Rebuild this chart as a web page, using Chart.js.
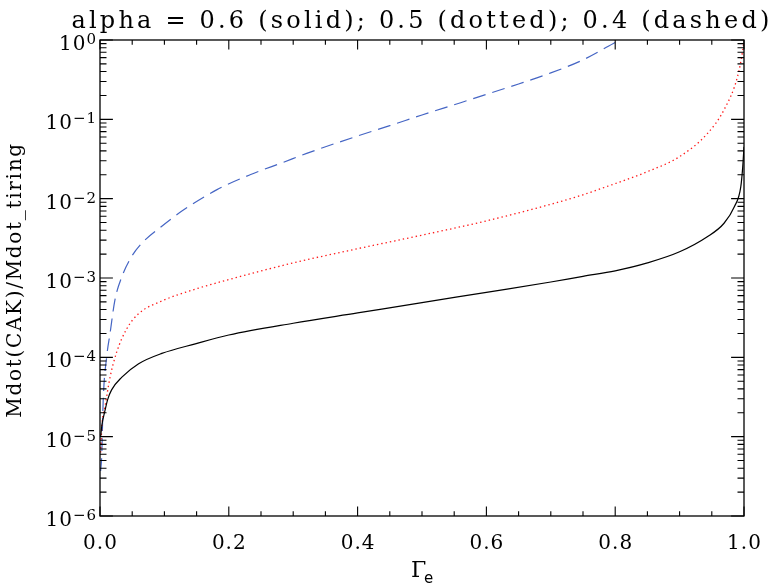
<!DOCTYPE html>
<html>
<head>
<meta charset="utf-8">
<script src="https://cdn.jsdelivr.net/npm/chart.js@4/dist/chart.umd.min.js"></script>
<style>
body{margin:0;background:#fff}
canvas{display:block}
</style>
</head>
<body>
<canvas id="chart" width="777" height="584"></canvas>
<script>

// alpha = 0.6 (solid)
const gammaSolid=[0.001,0.003,0.0078,0.012,0.018,0.034,0.06,0.096,0.148,0.2,0.3,0.4,0.5,0.6,0.7,0.75,0.8,0.85,0.9,0.943,0.969,0.985,0.995,0.998,1.0]
const mdotSolid=[1.0e-5,1.41e-5,2.14e-5,2.95e-5,3.89e-5,5.62e-5,8.3e-5,1.12e-4,1.48e-4,1.91e-4,2.69e-4,3.63e-4,4.9e-4,6.6e-4,8.9e-4,1.05e-3,1.23e-3,1.55e-3,2.14e-3,3.31e-3,4.9e-3,7.9e-3,1.41e-2,2.5e-2,4.5e-2]

// alpha = 0.5 (dotted)
const gammaDotted=[0.001,0.003,0.0078,0.0156,0.026,0.0415,0.06,0.096,0.148,0.2,0.3,0.4,0.5,0.6,0.7,0.75,0.8,0.85,0.9,0.943,0.969,0.99,0.998,1.0]
const mdotDotted=[6.3e-6,1.41e-5,2.4e-5,5.6e-5,1.17e-4,2.29e-4,3.55e-4,5.13e-4,7.24e-4,9.55e-4,1.55e-3,2.34e-3,3.47e-3,5.25e-3,8.5e-3,1.12e-2,1.55e-2,2.19e-2,3.39e-2,6.6e-2,0.132,0.347,0.74,1.0]

// alpha = 0.4 (dashed)
const gammaDashed=[0.001,0.0026,0.005,0.0104,0.0156,0.023,0.034,0.049,0.065,0.096,0.13,0.181,0.233,0.285,0.321,0.4,0.45,0.5,0.56,0.6,0.65,0.695,0.75,0.8,0.82]
const mdotDashed=[3.7e-6,5.6e-6,2.9e-5,1.02e-4,2.0e-4,5.2e-4,1.04e-3,1.86e-3,2.75e-3,4.5e-3,7.24e-3,1.29e-2,2.0e-2,2.88e-2,3.72e-2,6.17e-2,8.32e-2,0.1135,0.162,0.2065,0.279,0.372,0.562,0.933,1.15]

const xTicks=[0,0.2,0.4,0.6,0.8,1.0]
const xTickLabels=["0.0","0.2","0.4","0.6","0.8","1.0"]
const yTicks=[1e-6,1e-5,1e-4,1e-3,1e-2,1e-1,1]
const yTickExps=["−6","−5","−4","−3","−2","−1","0"]

const titleText="alpha = 0.6 (solid); 0.5 (dotted); 0.4 (dashed)"
const yTitle="Mdot(CAK)/Mdot_tiring"

function pts(xs,ys){
return xs.map((g,i)=>({x:g,y:ys[i]}))
}

const idlAxes={
id:"idlAxes",
afterDraw(chart){

const ctx=chart.ctx
const a=chart.chartArea
const sx=chart.scales.x
const sy=chart.scales.y

ctx.save()
ctx.strokeStyle="#000"
ctx.fillStyle="#000"
ctx.lineWidth=1.3
ctx.strokeRect(a.left,a.top,a.right-a.left,a.bottom-a.top)

ctx.lineWidth=1.1
ctx.beginPath()

// x ticks, bottom and top, pointing in
for(let i=0;i<=20;i++){
const px=sx.getPixelForValue(i*0.05)
const len=i%4===0?9.5:4.8
ctx.moveTo(px,a.bottom)
ctx.lineTo(px,a.bottom-len)
ctx.moveTo(px,a.top)
ctx.lineTo(px,a.top+len)
}

// y ticks, left and right
for(let e=-6;e<=0;e++){
for(let m=1;m<=9;m++){
const v=m*Math.pow(10,e)
if(v>1) break
const py=sy.getPixelForValue(v)
const len=m===1?12.9:6.5
ctx.moveTo(a.left,py)
ctx.lineTo(a.left+len,py)
ctx.moveTo(a.right,py)
ctx.lineTo(a.right-len,py)
}
}
ctx.stroke()

// x tick labels
ctx.font="20px 'DejaVu Serif'"
ctx.letterSpacing="1px"
ctx.textAlign="center"
ctx.textBaseline="alphabetic"
xTicks.forEach((t,i)=>{
ctx.fillText(xTickLabels[i],sx.getPixelForValue(t)+0.5,549)
})

// y tick labels 10^n
ctx.textAlign="left"
yTicks.forEach((t,i)=>{
const py=sy.getPixelForValue(t)
ctx.font="15px 'DejaVu Serif'"
const ew=ctx.measureText(yTickExps[i]).width
ctx.fillText(yTickExps[i],97-ew,py+4)
ctx.font="20px 'DejaVu Serif'"
const bw=ctx.measureText("10").width
ctx.fillText("10",97-ew-bw,py+10)
})

// x axis title
ctx.font="22px 'DejaVu Serif'"
ctx.letterSpacing="0px"
ctx.fillText("Γ",411,577)
ctx.font="15px 'DejaVu Sans'"
ctx.fillText("e",424,583)

// y axis title
ctx.save()
ctx.translate(21,(a.top+a.bottom)/2+2)
ctx.rotate(-Math.PI/2)
ctx.font="20px 'DejaVu Serif'"
ctx.letterSpacing="1.7px"
ctx.textAlign="center"
ctx.fillText(yTitle,0,0)
ctx.restore()

// plot title
ctx.font="24px 'DejaVu Serif'"
ctx.letterSpacing="3.2px"
ctx.textAlign="center"
ctx.fillText(titleText,(a.left+a.right)/2,28)

ctx.restore()

}
}

new Chart(document.getElementById("chart"),{
type:"line",
data:{
datasets:[
{
label:"0.6",
data:pts(gammaSolid,mdotSolid),
borderColor:"#000",
borderWidth:1.2
},
{
label:"0.5",
data:pts(gammaDotted,mdotDotted),
borderColor:"#ff1a1a",
borderWidth:1.3,
borderDash:[1.4,3]
},
{
label:"0.4",
data:pts(gammaDashed,mdotDashed),
borderColor:"#4565c4",
borderWidth:1.2,
borderDash:[13,7]
}
]
},
options:{
responsive:false,
animation:false,
layout:{padding:{left:100,right:33,top:40,bottom:68}},
elements:{
point:{radius:0},
line:{cubicInterpolationMode:"monotone",fill:false}
},
scales:{
x:{type:"linear",min:0,max:1,display:false},
y:{type:"logarithmic",min:1e-6,max:1,display:false}
},
plugins:{
legend:{display:false},
tooltip:{enabled:false}
}
},
plugins:[idlAxes]
})

</script>
</body>
</html>
